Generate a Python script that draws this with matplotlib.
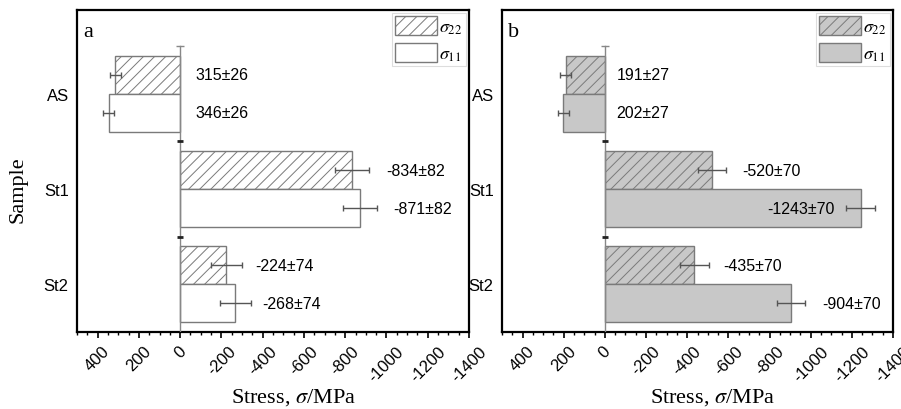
import matplotlib as mpl
mpl.use('Agg')
import numpy as np
import matplotlib.pyplot as plt
from matplotlib.ticker import MultipleLocator

mpl.rcParams['font.family'] = ['Liberation Sans', 'DejaVu Sans']
mpl.rcParams['mathtext.fontset'] = 'stix'
mpl.rcParams['axes.unicode_minus'] = False
mpl.rcParams['hatch.linewidth'] = 0.7

samples = ['AS', 'St1', 'St2']

# panel a
a_s22 = [315, -834, -224]
a_s22_err = [26, 82, 74]
a_s11 = [346, -871, -268]
a_s11_err = [26, 82, 74]

# panel b
b_s22 = [191, -520, -435]
b_s22_err = [27, 70, 70]
b_s11 = [202, -1243, -904]
b_s11_err = [27, 70, 70]

xticks = list(range(400, -1401, -200))

# text positions for the value labels (data units along x)
a_lab22 = [-73, -1001, -363]
a_lab11 = [-73, -1033, -399]
b_lab22 = [-57, -667, -573]
b_lab11 = [-57, -788, -1054]

SERIF = ['Liberation Serif', 'DejaVu Serif']
EDGE = '#7a7a7a'


def draw_panel(ax, s22, e22, s11, e11, lab22, lab11, fill, letter):
    y = np.arange(len(samples))
    h = 0.4
    ax.barh(y - h/2, s22, height=h, color=fill, edgecolor=EDGE, hatch='///',
            linewidth=1, label=r'$\sigma_{22}$', zorder=2)
    ax.barh(y + h/2, s11, height=h, color=fill, edgecolor=EDGE,
            linewidth=1, label=r'$\sigma_{11}$', zorder=2)
    ax.errorbar(s22, y - h/2, xerr=e22, fmt='none', ecolor='#555555',
                elinewidth=1, capsize=2, capthick=1, zorder=3)
    ax.errorbar(s11, y + h/2, xerr=e11, fmt='none', ecolor='#555555',
                elinewidth=1, capsize=2, capthick=1, zorder=3)
    for i in range(len(samples)):
        ax.text(lab22[i], y[i] - h/2, '%d\u00b1%d' % (s22[i], e22[i]),
                ha='left', va='center', fontsize=11.5, zorder=4)
        ax.text(lab11[i], y[i] + h/2, '%d\u00b1%d' % (s11[i], e11[i]),
                ha='left', va='center', fontsize=11.5, zorder=4)

    # zero axis line with category separators
    ax.plot([0, 0], [-0.5, 2.5], color='#888888', lw=1, zorder=3)
    ax.plot([0], [-0.5], marker='_', color='#888888', ms=6, mew=1, zorder=3)
    ax.plot([0, 0], [0.5, 1.5], ls='none', marker='_', color='#222222',
            ms=5, mew=2, zorder=3)

    ax.set_xlim(500, -1400)
    ax.set_ylim(2.5, -0.88)
    ax.set_xticks(xticks)
    ax.set_xticklabels([str(t) for t in xticks], rotation=45, ha='center',
                       fontsize=12)
    ax.xaxis.set_minor_locator(MultipleLocator(50))
    ax.tick_params(axis='x', which='major', direction='out', length=4,
                   width=1.2, pad=4)
    ax.tick_params(axis='x', which='minor', direction='out', length=2.5,
                   width=1)
    ax.set_yticks(range(len(samples)))
    ax.set_yticklabels(samples, fontsize=12)
    ax.tick_params(axis='y', length=0, pad=6)
    for sp in ax.spines.values():
        sp.set_linewidth(1.6)
    ax.text(0.015, 0.918, letter, transform=ax.transAxes, fontsize=16,
            family=SERIF, va='baseline', ha='left')
    leg = ax.legend(loc='upper right', fontsize=13, handlelength=2.3,
                    handleheight=1.25, labelspacing=0.35, handletextpad=0.15,
                    borderpad=0.2, borderaxespad=0.15, fancybox=False,
                    framealpha=1)
    leg.get_frame().set_edgecolor('#dddddd')
    leg.get_frame().set_linewidth(0.8)


fig = plt.figure(figsize=(9.01, 4.10), dpi=100)
axa = fig.add_axes([77/901, 77/410, 392/901, 322/410])
axb = fig.add_axes([502/901, 77/410, 391/901, 322/410])

draw_panel(axa, a_s22, a_s22_err, a_s11, a_s11_err, a_lab22, a_lab11,
           'white', 'a')
draw_panel(axb, b_s22, b_s22_err, b_s11, b_s11_err, b_lab22, b_lab11,
           '#c8c8c8', 'b')

fig.text(18/901, 1 - 190/410, 'Sample', rotation=90, fontsize=16,
         family=SERIF, ha='center', va='center')
fig.text(294/901, 1 - 398/410, r'Stress, $\sigma$/MPa', fontsize=16,
         family=SERIF, ha='center', va='center')
fig.text(713/901, 1 - 398/410, r'Stress, $\sigma$/MPa', fontsize=16,
         family=SERIF, ha='center', va='center')

fig.savefig('out.png', dpi=100)
